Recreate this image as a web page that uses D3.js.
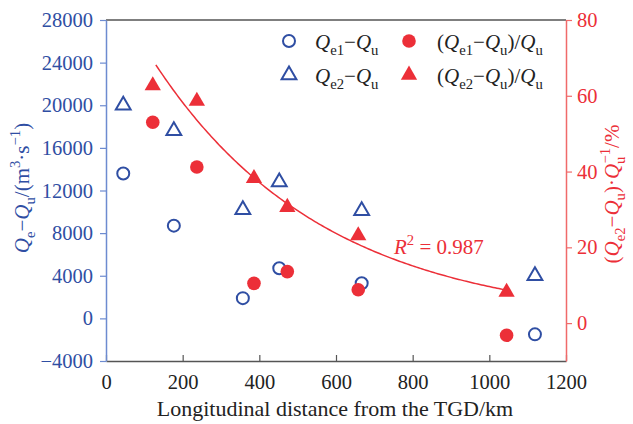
<!DOCTYPE html>
<html><head><meta charset="utf-8">
<script src="https://cdn.jsdelivr.net/npm/d3@7"></script>
<style>body{margin:0;background:#fff}svg{display:block}</style>
</head><body><svg id="c" width="633" height="424"></svg>
<script>
// ---------- data ----------
const distQ = [45, 177, 357, 452, 667, 1119];            // km, blue series
const qe1MinusQu = [13600, 8700, 1900, 4700, 3300, -1500]; // m3/s
const qe2MinusQu = [20000, 17600, 10200, 12800, 10100, 4000];
const distRatio = [122, 237, 386, 473, 658, 1045];        // km, red series
const ratio1 = [53.0, 41.2, 10.5, 13.6, 8.8, -3.2];        // %
const ratio2 = [62.7, 58.6, 38.2, 30.6, 23.1, 8.2];        // %
const fitRange = [130, 1045];
const r2Text = "0.987";
const xTicks = [0, 200, 400, 600, 800, 1000, 1200];
const leftTicks = [-4000, 0, 4000, 8000, 12000, 16000, 20000, 24000, 28000];
const rightTicks = [0, 20, 40, 60, 80];

// ---------- style ----------
const BLUE = "#2f4ea3", BLUE_AX = "#6d8bd0", RED = "#ec2f38", RED_AX = "#f06a6a";
const FONT = "'Liberation Serif','Times New Roman',serif";
const TICK_FS = 20.5;

const svg = d3.select("#c");
const L = 106, R = 566, T = 20, B = 361;
const x = d3.scaleLinear().domain([0, 1200]).range([L, R]);
const yL = d3.scaleLinear().domain([-4000, 28000]).range([B, T]);
const yR = d3.scaleLinear().domain([-10, 80]).range([B, T]);

// frame top
svg.append("line").attr("x1", L).attr("x2", R).attr("y1", T).attr("y2", T)
  .attr("stroke", "#555").attr("stroke-width", 1.5);

// bottom axis
const gx = svg.append("g").attr("transform", `translate(0,${B})`)
  .call(d3.axisBottom(x).tickValues(xTicks).tickFormat(d3.format("d")).tickSizeInner(-6).tickSizeOuter(0).tickPadding(13));
gx.select(".domain").attr("stroke", "#555").attr("stroke-width", 1.5);
gx.selectAll(".tick line").attr("stroke", "#555").attr("stroke-width", 1.2);
gx.selectAll("text").attr("font-family", FONT).attr("font-size", TICK_FS).attr("fill", "#222");

// left axis
const gl = svg.append("g").attr("transform", `translate(${L},0)`)
  .call(d3.axisLeft(yL).tickValues(leftTicks).tickFormat(d3.format("d")).tickSizeInner(6).tickSizeOuter(0).tickPadding(7));
gl.select(".domain").attr("stroke", BLUE_AX).attr("stroke-width", 1.5);
gl.selectAll(".tick line").attr("stroke", BLUE_AX).attr("stroke-width", 1.2);
gl.selectAll("text").attr("font-family", FONT).attr("font-size", TICK_FS).attr("fill", BLUE);

// right axis
const gr = svg.append("g").attr("transform", `translate(${R},0)`)
  .call(d3.axisRight(yR).tickValues(rightTicks).tickSizeInner(6).tickSizeOuter(0).tickPadding(5));
gr.select(".domain").attr("stroke", RED_AX).attr("stroke-width", 1.5);
gr.selectAll(".tick line").attr("stroke", RED_AX).attr("stroke-width", 1.2);
gr.selectAll("text").attr("font-family", FONT).attr("font-size", TICK_FS).attr("fill", RED);

// rich text helper: parts [text, mode, dx] mode: n normal, i italic, b sub, p sup
function rich(g, parts, size) {
  let off = 0;
  parts.forEach(([t, m, dx]) => {
    const ts = g.append("tspan").text(t);
    let target = 0, fs = size;
    if (m === "b") { target = size * 0.3; fs = size * 0.7; }
    if (m === "p") { target = -size * 0.42; fs = size * 0.7; }
    if (m === "i") ts.attr("font-style", "italic");
    ts.attr("font-size", fs).attr("dy", target - off);
    if (dx) ts.attr("dx", dx);
    off = target;
  });
}

// axis titles
svg.append("text").attr("x", (L + R) / 2 - 1).attr("y", 416).attr("text-anchor", "middle")
  .attr("font-family", FONT).attr("font-size", 22).attr("fill", "#222")
  .text("Longitudinal distance from the TGD/km");

const lt = svg.append("text").attr("transform", "translate(29,188) rotate(-90)")
  .attr("text-anchor", "middle").attr("font-family", FONT).attr("fill", BLUE);
rich(lt, [["Q","i"],["e","b"],["\u2212","n"],["Q","i"],["u","b"],["/(m","n"],["3","p"],["\u00b7s","n"],["\u22121","p"],[")","n"]], 21);

const rt = svg.append("text").attr("transform", "translate(619,194) rotate(-90)")
  .attr("text-anchor", "middle").attr("font-family", FONT).attr("fill", RED);
rich(rt, [["(","n"],["Q","i"],["e2","b"],["\u2212","n"],["Q","i"],["u","b"],[")\u00b7","n"],["Q","i"],["u","b"],["\u22121","p",-7],["/%","n"]], 21);

// fit curve (exponential least squares on ratio2)
const lx = distRatio, ly = ratio2.map(Math.log);
const mx = d3.mean(lx), my = d3.mean(ly);
const b = d3.sum(lx, (v, i) => (v - mx) * (ly[i] - my)) / d3.sum(lx, v => (v - mx) ** 2);
const a = Math.exp(my - b * mx);
const fitPts = d3.range(fitRange[0], fitRange[1] + 1, 5).map(v => [v, a * Math.exp(b * v)]);
svg.append("path").datum(fitPts)
  .attr("d", d3.line().x(d => x(d[0])).y(d => yR(d[1])))
  .attr("fill", "none").attr("stroke", RED).attr("stroke-width", 1.5);

// markers
const tri = (s) => d3.symbol().type(d3.symbolTriangle).size(s)();
svg.append("g").selectAll("circle").data(distQ).join("circle")
  .attr("cx", d => x(d)).attr("cy", (d, i) => yL(qe1MinusQu[i])).attr("r", 6)
  .attr("fill", "none").attr("stroke", BLUE).attr("stroke-width", 2);
svg.append("g").selectAll("path").data(distQ).join("path")
  .attr("d", tri(95)).attr("transform", (d, i) => `translate(${x(d)},${yL(qe2MinusQu[i])})`)
  .attr("fill", "none").attr("stroke", BLUE).attr("stroke-width", 2);
svg.append("g").selectAll("circle").data(distRatio).join("circle")
  .attr("cx", d => x(d)).attr("cy", (d, i) => yR(ratio1[i])).attr("r", 6.8)
  .attr("fill", RED);
svg.append("g").selectAll("path").data(distRatio).join("path")
  .attr("d", tri(115)).attr("transform", (d, i) => `translate(${x(d)},${yR(ratio2[i])})`)
  .attr("fill", RED);

// R^2 label
const r2 = svg.append("text").attr("x", 394).attr("y", 254).attr("font-family", FONT).attr("fill", RED);
rich(r2, [["R","i"],["2","p"],[" = " + r2Text,"n"]], 21);

// legend
const leg = svg.append("g");
leg.append("circle").attr("cx", 289).attr("cy", 41).attr("r", 6).attr("fill", "none").attr("stroke", BLUE).attr("stroke-width", 2);
leg.append("path").attr("d", tri(95)).attr("transform", "translate(289,75)").attr("fill", "none").attr("stroke", BLUE).attr("stroke-width", 2);
leg.append("circle").attr("cx", 409).attr("cy", 41).attr("r", 6.8).attr("fill", RED);
leg.append("path").attr("d", tri(115)).attr("transform", "translate(409,75)").attr("fill", RED);
const LFS = 21;
const lg1 = leg.append("text").attr("x", 315).attr("y", 49).attr("font-family", FONT).attr("fill", "#222");
rich(lg1, [["Q","i"],["e1","b"],["\u2212","n"],["Q","i"],["u","b"]], LFS);
const lg2 = leg.append("text").attr("x", 315).attr("y", 83).attr("font-family", FONT).attr("fill", "#222");
rich(lg2, [["Q","i"],["e2","b"],["\u2212","n"],["Q","i"],["u","b"]], LFS);
const lg3 = leg.append("text").attr("x", 437).attr("y", 49).attr("font-family", FONT).attr("fill", "#222");
rich(lg3, [["(","n"],["Q","i"],["e1","b"],["\u2212","n"],["Q","i"],["u","b"],[")/","n"],["Q","i"],["u","b"]], LFS);
const lg4 = leg.append("text").attr("x", 437).attr("y", 83).attr("font-family", FONT).attr("fill", "#222");
rich(lg4, [["(","n"],["Q","i"],["e2","b"],["\u2212","n"],["Q","i"],["u","b"],[")/","n"],["Q","i"],["u","b"]], LFS);
</script>
</body></html>
